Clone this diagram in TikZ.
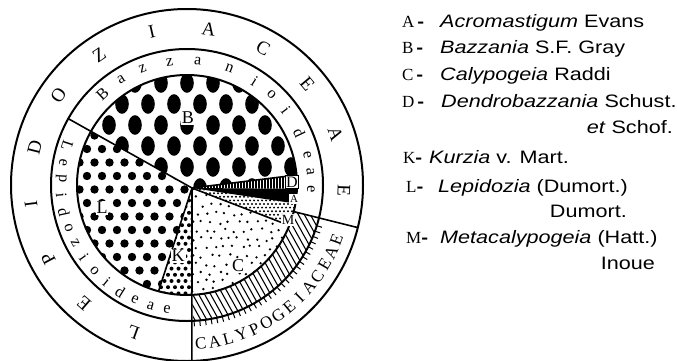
\documentclass[tikz,border=0pt]{standalone}
\usepackage{fontspec}
\setmainfont{Liberation Serif}
\newfontfamily\legendfont[FakeStretch=1.2]{Liberation Sans}
\usetikzlibrary{positioning}

\newcommand\keydash{{\legendfont\bfseries -}}

\begin{document}
\begin{tikzpicture}[
  x=1pt, y=1pt,
  rim/.style={line width=2pt},
  cut/.style={line width=1.6pt},
  sector/.style 2 args={insert path={(apex) -- ([shift={(ctr)}]#1:110) arc[start angle=#1, end angle=#2, radius=110] -- cycle}},
  famletter/.style={font=\fontsize{19}{19}\selectfont, inner sep=0pt},
  subletter/.style={font=\fontsize{16}{16}\selectfont, inner sep=0pt},
  calletter/.style={font=\fontsize{17}{17}\selectfont, inner sep=0pt},
  genlabel/.style={font=\fontsize{18}{18}\selectfont, fill=white, inner sep=1pt},
  smallbox/.style={fill=white, inner sep=1pt},
  legkey/.style={anchor=base west, inner sep=0pt, font=\fontsize{17}{17}\selectfont},
  legtext/.style={anchor=base west, inner sep=0pt, font=\legendfont\fontsize{18}{18}\selectfont},
  legmore/.style={anchor=base east, inner sep=0pt, font=\legendfont\fontsize{18}{18}\selectfont}
]
\useasboundingbox (0,0) rectangle (677,360);
\coordinate (ctr) at (187,175);
\coordinate (apex) at (192,172);

% Bazzania: big ovals
\begin{scope}
  \clip[sector={5.2}{150.8}];
  \foreach \r in {0,...,6}
    \foreach \c in {0,...,9}
      \fill ({70+26*\c+13*mod(\r,2)}, {298-21*\r}) ellipse[x radius=6.8, y radius=9.8];
\end{scope}

% Lepidozia: large dots
\begin{scope}
  \clip[sector={150.8}{255}];
  \foreach \r in {0,...,13}
    \foreach \c in {0,...,8}
      \fill ({72+15*\c+7.5*mod(\r,2)}, {238-13.5*\r}) circle[radius=4.2];
\end{scope}

% Kurzia: medium dots
\begin{scope}
  \clip[sector={255}{272.6}];
  \foreach \r in {0,...,17}
    \foreach \c in {0,...,6}
      \fill ({154+7*\c+3.5*mod(\r,2)}, {172-6.2*\r}) circle[radius=2];
\end{scope}

% Calypogeia: fine dots
\begin{scope}
  \clip[sector={-87.4}{-21.6}];
  \pgfmathsetseed{7}
  \foreach \r in {0,...,13}
    \foreach \c in {0,...,12}
      \fill ({193+9*\c+4.5*mod(\r,2)+2*rand}, {172-8.5*\r+2*rand}) circle[radius=1.3];
\end{scope}

% Metacalypogeia: dense dots
\begin{scope}
  \clip[sector={-21.6}{-9.7}];
  \foreach \r in {0,...,12}
    \foreach \c in {0,...,28}
      \fill ({190+4*\c+2*mod(\r,2)}, {174-3.6*\r}) circle[radius=1.1];
\end{scope}

% Acromastigum: solid
\fill[sector={-9.7}{-2}];

% Dendrobazzania: vertical hatch
\begin{scope}
  \clip[sector={-2}{5.2}];
  \foreach \c in {0,...,38}
    \draw[line width=1.3pt] ({190+3*\c}, 160) -- ++(0, 40);
\end{scope}

% Calypogeiaceae band
\begin{scope}
  \clip ([shift={(ctr)}]-87.4:110) arc[start angle=-87.4, end angle=-14, radius=110]
    -- ([shift={(ctr)}]-14:136) arc[start angle=-14, end angle=-87.4, radius=136] -- cycle;
  \foreach \c in {0,...,38}
    \draw[line width=1.1pt] ({100+6*\c}, 200) -- ++(110, -198);
\end{scope}
\foreach \a in {-87,-84.6,...,-16}
  \draw[line width=1pt] ([shift={(ctr)}]\a:136) -- ([shift={(ctr)}]\a:141.5);

% rings
\draw[rim] (ctr) circle[radius=176];
\draw[rim] (ctr) circle[radius=136];
\draw[rim] (ctr) circle[radius=110];

% sector borders
\draw[cut] (apex) -- ([shift={(ctr)}]150.8:136);
\draw[cut] (apex) -- ([shift={(ctr)}]5.2:110);
\draw[cut] (apex) -- ([shift={(ctr)}]-21.6:110);
\draw[cut] (apex) -- ([shift={(ctr)}]255:110);
\draw[cut] (apex) -- ([shift={(ctr)}]-88.4:176);
\draw[cut] ([shift={(ctr)}]-14:110) -- ([shift={(ctr)}]-14:176);

% ring lettering
\foreach \l [count=\i from 0] in {L,E,P,I,D,O,Z,I,A,C,E,A,E}
  \node[famletter, rotate={160-21*\i}] at ([shift={(ctr)}]{250-21*\i}:157) {\l};
\foreach \l/\a in {B/133, a/122, z/111, z/98, a/85, n/70, i/57, o/47, i/37, d/25, e/14, a/6, e/-2}
  \node[subletter, rotate=\a-90] at ([shift={(ctr)}]\a:124) {\l};
\foreach \l [count=\i from 0] in {L,e,p,i,d,o,z,i,o,i,d,e,a,e}
  \node[subletter, rotate={252+7.6*\i}] at ([shift={(ctr)}]{162+7.6*\i}:126) {\l};
\foreach \l [count=\i from 0] in {C,A,L,Y,P,O,G,E,I,A,C,E,A,E}
  \node[calletter, rotate={5+5*\i}] at ([shift={(ctr)}]{-85+5*\i}:159) {\l};

% genus labels
\node[genlabel] (labB) at (188,242) {B};
\node[genlabel] (labL) at (102,152) {L};
\node[genlabel] (labK) at (178,104) {K};
\node[genlabel] (labC) at (238,94) {C};
\node[draw, line width=0.6pt, fill=white, inner sep=1pt, font=\fontsize{16}{16}\selectfont] (labD) at (292,178) {D};
\node[smallbox, font=\fontsize{11}{11}\selectfont] (labA) at (294,161) {A};
\node[smallbox, font=\fontsize{14}{14}\selectfont] (labM) at (288,140) {M};

% legend
\node[legkey] (keyA) at (402,333) {A\,\keydash};
\node[legtext] (genA) at (440,333) {\textit{Acromastigum} Evans};
\node[legkey] (keyB) at (402,307) {B\,\keydash};
\node[legtext] (genB) at (440,307) {\textit{Bazzania} S.F. Gray};
\node[legkey] (keyC) at (402,280) {C\,\keydash};
\node[legtext] (genC) at (440,280) {\textit{Calypogeia} Raddi};
\node[legkey] (keyD) at (402,253) {D\,\keydash};
\node[legtext] (genD) at (441,253) {\textit{Dendrobazzania} Schust.};
\node[legmore] (authD) at (673,227) {\textit{et} Schof.};
\node[legkey] (keyK) at (403,197) {K\keydash};
\node[legtext] (genK) at (429,197) {\textit{Kurzia} v. Mart.};
\node[legkey] (keyL) at (406,168) {L\keydash};
\node[legtext] (genL) at (438,168) {\textit{Lepidozia} (Dumort.)};
\node[legmore] (authL) at (627,143) {Dumort.};
\node[legkey] (keyM) at (406,117) {M\keydash};
\node[legtext] (genM) at (440,117) {\textit{Metacalypogeia} (Hatt.)};
\node[legmore] (authM) at (655,91) {Inoue};
\end{tikzpicture}
\end{document}
